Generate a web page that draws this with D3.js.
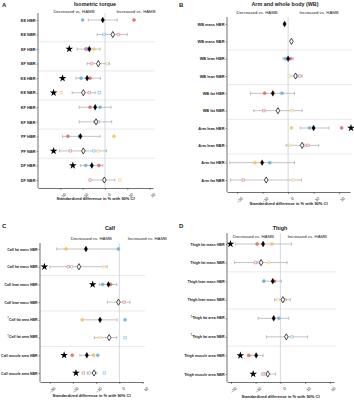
<!DOCTYPE html>
<html>
<head>
  <style>
    body, html { margin: 0; padding: 0; background: #fff; }
    text { font-family: "Liberation Sans", Arial, sans-serif; fill: #222; }
  </style>
</head>
<body>
  <script src="https://cdnjs.cloudflare.com/ajax/libs/d3/7.8.5/d3.min.js"></script>
  <script>
    // A - Isometric torque
    const aRows = ["EE HBR", "EE NBR", "EF HBR", "EF NBR", "KE HBR", "KE NBR", "KF HBR", "KF NBR", "PF HBR", "PF NBR", "DF HBR", "DF NBR"]
    const aEst = [-1, 3.5, -7, -3, -8, -9.7, -4.4, -4, -11, -9.7, -5.9, -0.3]
    const aLo = [-7.5, -3.5, -12.5, -8, -13, -14.7, -11.6, -11.6, -19, -20.4, -11, -6.7]
    const aHi = [5.5, 10, -2.2, 2, -2, -4.4, 2.7, 3, -2.2, 0.7, -1, 4.4]
    const aStar = [null, null, -16, null, -19, -23, null, null, null, -23, -14.4, null]
    const aRed = [13, 6, -8.5, -6, -6.7, -7, -6.7, -4.5, -16.6, -15.5, -2.7, -6.7]
    const aBlue = [-10, -0.5, null, null, -10.7, -2.6, -2.2, null, -11.5, -5, -8.6, null]
    const aYellow = [null, null, -5, 1, null, -19.6, null, null, 4, -3, null, 6.7]
    const aPurple = [null, null, -8, null, null, null, null, -3, null, null, null, null]
    const aTicks = [-20, -10, 0, 10, 20]

    // B - Arm and whole body
    const bRows = ["WB mass HBR", "WB mass NBR", "WB lean HBR", "WB lean NBR", "WB fat HBR", "WB fat NBR", "Arm lean HBR", "Arm lean NBR", "Arm fat HBR", "Arm fat NBR"]
    const bEst = [-1.4, 1.3, 0, 2.9, -6, -4, 10, 5.5, -10.2, -8.6]
    const bLo = [null, null, -2, 0.5, -14.8, -13.5, 4.8, -0.8, -22.9, -22.6]
    const bHi = [null, null, 2, 5.5, 2.5, 5.5, 16, 12, 2.5, 5.2]
    const bStar = [null, null, null, null, null, null, 24.7, null, null, null]
    const bRed = [null, null, 1, 4.6, -9.2, -9.5, 21, 7.8, null, -17.6]
    const bBlue = [null, null, -1, null, -2.4, null, 8.4, null, -7.2, null]
    const bYellow = [null, null, null, 0.5, null, 1.6, 1.3, 0.6, -13, 2]
    const bPurple = [null, null, null, 3.5, null, null, null, 6.5, null, null]
    const bTicks = [-20, -10, 0, 10, 20]

    // C - Calf
    const cRows = ["Calf fat mass HBR", "Calf fat mass NBR", "Calf lean mass HBR", "Calf lean mass NBR", "†Calf fat area HBR", "†Calf fat area NBR", "Calf muscle area HBR", "Calf muscle area NBR"]
    const cEst = [-14.4, -17.4, -4.7, -0.4, -8.3, -4.4, -14, -10.9]
    const cLo = [-27, -29.9, -8.6, -5.2, -16, -10.8, -17, -13.8]
    const cHi = [-0.4, -5.2, -1.1, 4.6, -0.9, -1.1, -10.8, -9.7]
    const cStar = [null, -32.3, -11.5, null, null, null, -23.8, -18.7]
    const cRed = [null, -22, -3.7, 2, null, null, -20.3, -15.5]
    const cBlue = [-0.4, null, -7.2, null, 2.5, 2.5, -9.3, -6.5]
    const cYellow = [-23, -6.6, null, null, -16, -8.3, -11.2, null]
    const cPurple = [null, -20.5, null, null, null, null, null, -13]
    const cTicks = [-30, -20, -10, 0, 10]

    // D - Thigh
    const dRows = ["Thigh fat mass HBR", "Thigh fat mass NBR", "Thigh lean mass HBR", "Thigh lean mass NBR", "†Thigh fat area HBR", "†Thigh fat area NBR", "Thigh muscle area HBR", "Thigh muscle area NBR"]
    const dEst = [-7, -7.8, -3.1, 1, -2.7, 2.4, -9.8, -5.1]
    const dLo = [-18.2, -18.6, -6.7, -2.3, -9, -5.7, -11.9, -7.4]
    const dHi = [4.5, 2.7, 0.4, 4, 3.4, 11, -7, -2]
    const dStar = [-20.2, null, null, null, null, null, -16.2, -11]
    const dRed = [-9.4, -10.1, -2.4, 1.8, null, null, -12.8, -7]
    const dBlue = [null, null, -6.7, null, -0.6, 4.7, null, null]
    const dYellow = [-3.4, -4.7, null, -1, null, null, null, null]
    const dPurple = [null, -8.8, null, null, null, null, null, -6]
    const dTicks = [-20, -10, 0, 10, 20]

    const colors = { red: "#e0726c", blue: "#72b4dc", yellow: "#f0c866", purple: "#b49ad0" }

    const svg = d3.select("body").append("svg")
      .attr("width", 354)
      .attr("height", 400)

    function drawPanel(p) {
      const g = svg.append("g")
      const x = d3.scaleLinear().domain(p.domain).range([p.x0, p.x1])
      const y = d3.scalePoint().domain(p.rows).range([p.r0, p.r1])
      const step = y.step()

      // letter + titles
      g.append("text").attr("x", p.letterX).attr("y", p.letterY)
        .style("font-size", "6px").style("font-weight", "bold").text(p.letter)
      g.append("text").attr("x", p.titleX).attr("y", p.titleY)
        .attr("text-anchor", "middle").style("font-size", "5.4px").style("font-weight", "bold").text(p.title)
      g.append("text").attr("x", x(0) - p.subOff).attr("y", p.subY)
        .attr("text-anchor", "middle").style("font-size", "4.3px").text("Decreased vs. HAMB")
      g.append("text").attr("x", x(0) + p.subOff).attr("y", p.subY)
        .attr("text-anchor", "middle").style("font-size", "4.3px").text("Increased vs. HAMB")

      // group separators
      const seps = p.rows.filter((d, i) => i % 2 === 1 && i < p.rows.length - 1)
      g.selectAll(".sep").data(seps).join("line")
        .attr("x1", p.x0).attr("x2", p.x1 + 2)
        .attr("y1", d => y(d) + step / 2).attr("y2", d => y(d) + step / 2)
        .attr("stroke", "#dcdcdc").attr("stroke-width", 0.6)

      // zero line
      g.append("line")
        .attr("x1", x(0)).attr("x2", x(0))
        .attr("y1", p.yTop).attr("y2", p.yBot)
        .attr("stroke", "#c4d0de").attr("stroke-width", 0.8)

      // axes
      const xAxis = g.append("g")
        .attr("transform", `translate(0,${p.yBot})`)
        .call(d3.axisBottom(x).tickValues(p.ticks).tickSize(2).tickSizeOuter(0))
      xAxis.select(".domain").attr("stroke", "#333").attr("stroke-width", 0.7)
      xAxis.selectAll(".tick line").attr("stroke", "#333").attr("stroke-width", 0.5)
      xAxis.selectAll("text")
        .style("font-size", "4px")
        .attr("text-anchor", "end")
        .attr("dx", "-0.2em").attr("dy", "0.9em")
        .attr("transform", "rotate(-45)")

      const yAxis = g.append("g")
        .attr("transform", `translate(${p.x0},0)`)
        .call(d3.axisLeft(y).tickSize(1.5).tickSizeOuter(0))
      yAxis.select(".domain").attr("stroke", "#333").attr("stroke-width", 0.7)
        .attr("d", `M0,${p.yTop}V${p.yBot}`)
      yAxis.selectAll(".tick line").attr("stroke", "#333").attr("stroke-width", 0.5)
      yAxis.selectAll("text").each(function (d) {
        const t = d3.select(this).text("")
          .style("font-size", p.labelSize).style("font-weight", "bold").attr("x", -2.5)
        if (d.startsWith("†")) {
          t.append("tspan").attr("dy", "-0.35em").style("font-size", "3px").text("†")
          t.append("tspan").attr("dy", "0.35em").text(d.slice(1))
        } else {
          t.text(d)
        }
      })

      g.append("text")
        .attr("x", (p.x0 + p.x1) / 2).attr("y", p.axTitleY)
        .attr("text-anchor", "middle")
        .style("font-size", "4px").style("font-weight", "bold")
        .text("Standardized difference in % with 90% CI")

      const rows = p.rows.map((r, i) => ({
        r, i, nbr: r.endsWith("NBR"),
        est: p.est[i], lo: p.lo[i], hi: p.hi[i], star: p.star[i]
      }))

      // error bars
      const ci = rows.filter(d => d.lo !== null)
      g.selectAll(".ci").data(ci).join("line")
        .attr("x1", d => x(d.lo)).attr("x2", d => x(d.hi))
        .attr("y1", d => y(d.r)).attr("y2", d => y(d.r))
        .attr("stroke", "#9a9a9a").attr("stroke-width", 0.6)
      g.selectAll(".capL").data(ci).join("line")
        .attr("x1", d => x(d.lo)).attr("x2", d => x(d.lo))
        .attr("y1", d => y(d.r) - 1.6).attr("y2", d => y(d.r) + 1.6)
        .attr("stroke", "#9a9a9a").attr("stroke-width", 0.6)
      g.selectAll(".capR").data(ci).join("line")
        .attr("x1", d => x(d.hi)).attr("x2", d => x(d.hi))
        .attr("y1", d => y(d.r) - 1.6).attr("y2", d => y(d.r) + 1.6)
        .attr("stroke", "#9a9a9a").attr("stroke-width", 0.6)

      // coloured points
      const pts = []
      Object.keys(colors).forEach(c => {
        p[c].forEach((v, i) => {
          if (v !== null) pts.push({ v, r: p.rows[i], c, nbr: p.rows[i].endsWith("NBR") })
        })
      })
      g.selectAll(".pt").data(pts).join("path")
        .attr("transform", d => `translate(${x(d.v)},${y(d.r)})`)
        .attr("d", d => d3.symbol().type(d.nbr ? d3.symbolSquare : d3.symbolCircle).size(d.nbr ? 6 : 7)())
        .attr("fill", d => d.nbr ? "#fff" : colors[d.c])
        .attr("stroke", d => colors[d.c])
        .attr("stroke-width", 0.6)
        .attr("opacity", 0.95)

      // estimate markers
      g.selectAll(".est").data(rows).join("path")
        .attr("transform", d => `translate(${x(d.est)},${y(d.r)})`)
        .attr("d", d => d3.symbol().type(d3.symbolDiamond).size(d.nbr ? 11 : 10)())
        .attr("fill", d => d.nbr ? "#fff" : "#000")
        .attr("stroke", "#000")
        .attr("stroke-width", d => d.nbr ? 0.7 : 0.3)

      // significance stars
      g.selectAll(".star").data(rows.filter(d => d.star !== null)).join("path")
        .attr("transform", d => `translate(${x(d.star)},${y(d.r)})`)
        .attr("d", d3.symbol().type(d3.symbolStar).size(18)())
        .attr("fill", "#000")
    }

    drawPanel({
      letter: "A", title: "Isometric torque", rows: aRows, est: aEst, lo: aLo, hi: aHi, star: aStar,
      red: aRed, blue: aBlue, yellow: aYellow, purple: aPurple, ticks: aTicks, labelSize: "3.9px",
      domain: [-30, 21.5], x0: 38, x1: 153, yTop: 13, yBot: 188, r0: 20, r1: 180,
      letterX: 2, letterY: 7, titleX: 95, titleY: 6, subY: 13, subOff: 31, axTitleY: 200
    })
    drawPanel({
      letter: "B", title: "Arm and whole body (WB)", rows: bRows, est: bEst, lo: bLo, hi: bHi, star: bStar,
      red: bRed, blue: bBlue, yellow: bYellow, purple: bPurple, ticks: bTicks, labelSize: "3.9px",
      domain: [-24, 24.3], x0: 227, x1: 350, yTop: 17, yBot: 192, r0: 24, r1: 180,
      letterX: 179, letterY: 7, titleX: 285, titleY: 6, subY: 14, subOff: 31, axTitleY: 205
    })
    drawPanel({
      letter: "C", title: "Calf", rows: cRows, est: cEst, lo: cLo, hi: cHi, star: cStar,
      red: cRed, blue: cBlue, yellow: cYellow, purple: cPurple, ticks: cTicks, labelSize: "3.5px",
      domain: [-34.2, 10.2], x0: 40, x1: 143, yTop: 243, yBot: 382, r0: 249, r1: 373,
      letterX: 2, letterY: 228, titleX: 110, titleY: 230, subY: 240, subOff: 28, axTitleY: 397
    })
    drawPanel({
      letter: "D", title: "Thigh", rows: dRows, est: dEst, lo: dLo, hi: dHi, star: dStar,
      red: dRed, blue: dBlue, yellow: dYellow, purple: dPurple, ticks: dTicks, labelSize: "3.6px",
      domain: [-21.6, 21.7], x0: 227, x1: 334, yTop: 233, yBot: 382, r0: 244, r1: 374,
      letterX: 179, letterY: 228, titleX: 280, titleY: 230, subY: 238, subOff: 27, axTitleY: 398
    })
  </script>
</body>
</html>
